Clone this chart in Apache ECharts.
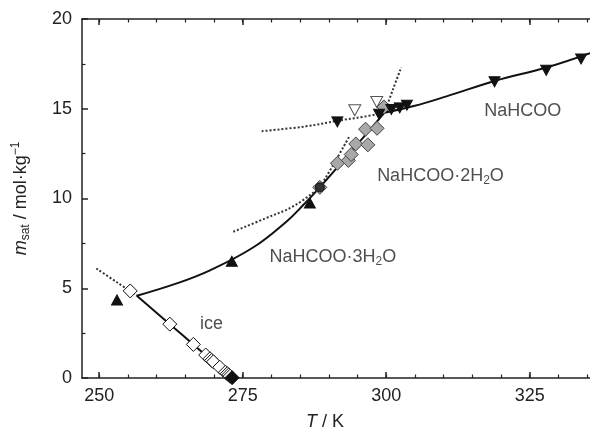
<!DOCTYPE html>
<html><head><meta charset="utf-8">
<script src="https://cdn.jsdelivr.net/npm/echarts@6/dist/echarts.min.js"></script>
<style>html,body{margin:0;padding:0;background:#fff}#c{width:590px;height:436px}</style>
</head><body><div id="c"></div>
<script>
// ---- tick labels ----
const xMajorTicks = [250, 275, 300, 325];
const xMinorTicks = [250, 255, 260, 265, 270, 275, 280, 285, 290, 295, 300, 305, 310, 315, 320, 325, 330, 335];

// ---- measured points ----
const iceOpen = [[255.4, 4.85], [262.3, 3.0], [266.4, 1.87], [268.55, 1.28],
  [269.3, 1.07], [269.6, 0.98], [269.9, 0.90], [271.0, 0.60],
  [272.0, 0.32], [272.3, 0.24], [272.55, 0.17], [272.8, 0.10]];
const iceBlack = [[273.15, 0.02]];
const tri3H2O = [[253.1, 4.35], [273.1, 6.5], [286.7, 9.75]];
const dia2H2O = [[288.43, 10.62], [291.5, 11.96], [293.4, 12.12], [293.9, 12.45], [294.7, 13.04],
  [296.8, 12.99], [296.4, 13.86], [298.4, 13.91], [299.6, 15.1]];
const transCircle = [[288.43, 10.62]];
const triAnh = [[291.48, 14.27], [298.75, 14.69], [300.9, 14.96], [302.35, 15.05], [303.6, 15.2],
  [318.87, 16.5], [327.87, 17.14], [333.95, 17.77]];
const triAnhOpen = [[294.52, 14.92], [298.35, 15.38]];

// ---- model curves ----
const iceSolid = [[256.55, 4.58], [262.3, 3.0], [266.4, 1.87], [270.0, 0.87], [273.15, 0.0]];
const iceDotted = [[249.5, 6.1], [253.0, 5.35], [256.55, 4.58]];
const h3Solid = [[256.55, 4.58], [263.5, 5.27], [269.3, 6.0], [276.8, 7.27], [282.6, 8.71], [285.5, 9.62], [288.43, 10.62]];
const h3Dotted = [[288.43, 10.62], [291.0, 12.0], [293.5, 13.42]];
const h2Dotted = [[273.36, 8.15], [279.0, 8.9], [284.0, 9.6], [288.43, 10.62]];
const h2Solid = [[288.43, 10.62], [294.0, 12.65], [299.7, 14.78]];
const h2DottedUp = [[299.7, 14.78], [301.2, 16.1], [302.6, 17.3]];
const anhSolid = [[299.7, 14.78], [304.8, 15.15], [310.5, 15.69], [318.9, 16.55], [327.9, 17.3], [335.5, 18.1]];
const anhDotted = [[278.3, 13.75], [286.0, 14.02], [291.5, 14.33], [296.0, 14.55], [299.7, 14.78]];

// ---- text labels ----
const labelPos = [[269.56, 2.99], [290.7, 6.74], [309.45, 11.25], [323.8, 14.89]];
const labelText = ['{a|ice}', '{a|NaHCOO·3H}{s|2}{a|O}', '{a|NaHCOO·2H}{s|2}{a|O}', '{a|NaHCOO}'];

const FONT = '"Liberation Sans", Arial, Helvetica, sans-serif';
const TXT = '#222';
const rich = {
  a: {fontSize: 18, fontFamily: FONT, color: TXT, lineHeight: 22},
  s: {fontSize: 12, fontFamily: FONT, color: TXT, lineHeight: 22, verticalAlign: 'bottom'}
};

function lineSeries(data, dotted) {
  return {type: 'line', data: data, smooth: 0.4, showSymbol: false, symbol: 'none', silent: true,
    clip: false, z: 2,
    lineStyle: {color: dotted ? '#333' : '#111', width: 2, type: dotted ? [2, 2] : 'solid'}};
}
function scatter(data, symbol, size, fill, border, rotate, z) {
  return {type: 'scatter', data: data, symbol: symbol, symbolSize: size, symbolRotate: rotate || 0,
    clip: false, z: z || 5, silent: true,
    itemStyle: {color: fill, borderColor: border, borderWidth: 1, opacity: 1}};
}

const chart = echarts.init(document.getElementById('c'), null, {renderer: 'canvas'});
const axisLine = {show: true, lineStyle: {color: '#222', width: 1.5}};
chart.setOption({
  animation: false,
  backgroundColor: '#fff',
  grid: {left: 82, right: 0, top: 19, bottom: 49, containLabel: false},
  xAxis: [
    {type: 'value', min: 247, max: 335.5, position: 'bottom', axisLine: axisLine,
      axisTick: {show: true, inside: true, length: 6, customValues: xMajorTicks, lineStyle: {color: '#222', width: 1.5}},
      axisLabel: {customValues: xMajorTicks, fontSize: 18, fontFamily: FONT, color: TXT, margin: 9},
      splitLine: {show: false},
      name: '{i|T}{a| / K}', nameLocation: 'middle', nameGap: 35,
      nameTextStyle: {padding: [0, 22, 0, 0], rich: {i: {fontSize: 18, fontFamily: FONT, color: TXT, fontStyle: 'italic'}, a: {fontSize: 18, fontFamily: FONT, color: TXT}}}},
    {type: 'value', min: 247, max: 335.5, position: 'bottom', axisLine: {show: false},
      axisTick: {show: true, inside: true, length: 3.5, customValues: xMinorTicks, lineStyle: {color: '#222', width: 1.2}},
      axisLabel: {show: false}, splitLine: {show: false}},
    {type: 'value', min: 247, max: 335.5, position: 'top', axisLine: axisLine,
      axisTick: {show: true, inside: true, length: 6, customValues: xMajorTicks, lineStyle: {color: '#222', width: 1.5}},
      axisLabel: {show: false}, splitLine: {show: false}},
    {type: 'value', min: 247, max: 335.5, position: 'top', axisLine: {show: false},
      axisTick: {show: true, inside: true, length: 3.5, customValues: xMinorTicks, lineStyle: {color: '#222', width: 1.2}},
      axisLabel: {show: false}, splitLine: {show: false}}
  ],
  yAxis: [
    {type: 'value', min: 0, max: 20, interval: 5, position: 'left', axisLine: axisLine,
      axisTick: {show: true, inside: true, length: 6, lineStyle: {color: '#222', width: 1.5}},
      minorTick: {show: true, splitNumber: 2, length: 3.5, lineStyle: {color: '#222', width: 1.2}},
      axisLabel: {fontSize: 18, fontFamily: FONT, color: TXT, margin: 10},
      splitLine: {show: false}, minorSplitLine: {show: false},
      name: '{i|m}{s|sat}{a| / mol·kg}{p|−1}', nameLocation: 'middle', nameGap: 50, nameRotate: 90,
      nameTextStyle: {rich: {
        i: {fontSize: 18, fontFamily: FONT, color: TXT, fontStyle: 'italic', lineHeight: 22},
        s: {fontSize: 12, fontFamily: FONT, color: TXT, verticalAlign: 'bottom', lineHeight: 22},
        a: {fontSize: 18, fontFamily: FONT, color: TXT, lineHeight: 22},
        p: {fontSize: 12, fontFamily: FONT, color: TXT, verticalAlign: 'top', lineHeight: 22}}}}
  ],
  series: [
    lineSeries(iceDotted, true), lineSeries(iceSolid, false),
    lineSeries(h3Solid, false), lineSeries(h3Dotted, true),
    lineSeries(h2Dotted, true), lineSeries(h2Solid, false), lineSeries(h2DottedUp, true),
    lineSeries(anhSolid, false), lineSeries(anhDotted, true),
    scatter(iceOpen, 'diamond', 14, '#fff', '#111', 0, 6),
    scatter(iceBlack, 'diamond', 14, '#111', '#111', 0, 7),
    scatter(tri3H2O, 'triangle', [11, 10], '#111', '#111', 0, 6),
    scatter(dia2H2O, 'diamond', 14, '#a8a8a8', '#444', 0, 6),
    scatter(transCircle, 'circle', 9, '#333', '#111', 0, 7),
    scatter(triAnhOpen, 'triangle', [12, 11], '#fff', '#555', 180, 5),
    scatter(triAnh, 'triangle', [11, 10], '#111', '#111', 180, 7),
    {type: 'scatter', symbolSize: 0, silent: true, z: 10, clip: false,
      data: labelPos.map((p, i) => ({value: p, label: {show: true, position: 'inside', formatter: labelText[i], rich: rich}}))}
  ]
});
</script></body></html>
